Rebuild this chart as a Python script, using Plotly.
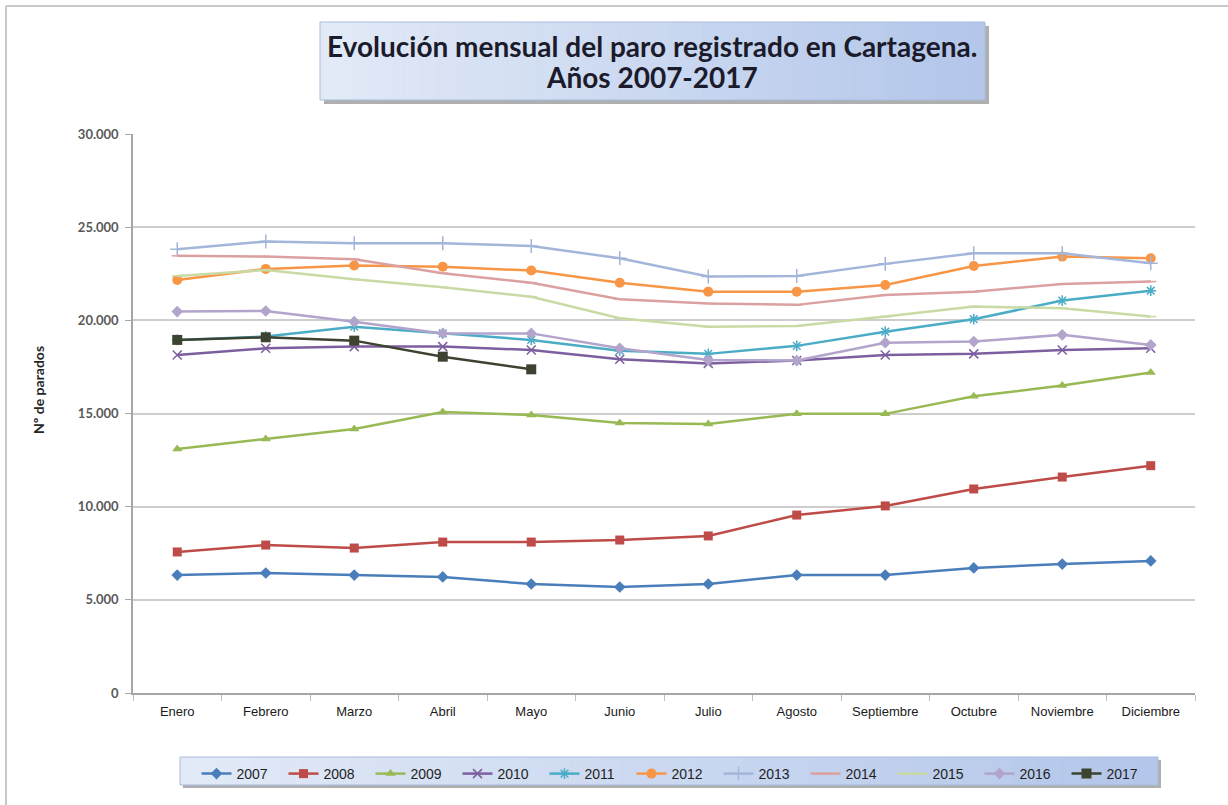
import plotly.graph_objects as go

meses = ["Enero", "Febrero", "Marzo", "Abril", "Mayo", "Junio", "Julio",
         "Agosto", "Septiembre", "Octubre", "Noviembre", "Diciembre"]

y2007 = [6330, 6440, 6330, 6230, 5850, 5690, 5850, 6330, 6330, 6710, 6920, 7090]
y2008 = [7570, 7940, 7780, 8100, 8100, 8210, 8430, 9550, 10040, 10950, 11590, 12200]
y2009 = [13100, 13630, 14170, 15080, 14920, 14490, 14440, 14980, 14980, 15920, 16500, 17200]
y2010 = [18140, 18500, 18590, 18590, 18410, 17910, 17690, 17840, 18140, 18200, 18410, 18500]
y2011 = [18950, 19130, 19660, 19300, 18950, 18370, 18200, 18630, 19390, 20060, 21060, 21590]
y2012 = [22170, 22760, 22940, 22880, 22670, 22020, 21540, 21540, 21900, 22920, 23420, 23330]
y2013 = [23820, 24230, 24140, 24140, 23990, 23330, 22350, 22380, 23030, 23600, 23600, 23060]
y2014 = [23460, 23420, 23280, 22530, 22020, 21130, 20910, 20830, 21360, 21540, 21950, 22080]
y2015 = [22380, 22700, 22200, 21780, 21270, 20110, 19660, 19700, 20200, 20740, 20650, 20200]
y2016 = [20470, 20500, 19930, 19300, 19300, 18500, 17870, 17840, 18800, 18860, 19220, 18680]
y2017 = [18950, 19090, 18910, 18050, 17370]

series = [
    ("2007", y2007, "#4A7EBB", "diamond", 9),
    ("2008", y2008, "#BE4B48", "square", 9),
    ("2009", y2009, "#98B954", "triangle-up", 9),
    ("2010", y2010, "#7D5FA0", "x-thin", 9),
    ("2011", y2011, "#4BACC6", "asterisk", 9),
    ("2012", y2012, "#F79646", "circle", 10),
    ("2013", y2013, "#A3B6DA", "cross-thin", 10),
    ("2014", y2014, "#DBA0A0", "line-ew", 8),
    ("2015", y2015, "#C9DAA4", "line-ew", 8),
    ("2016", y2016, "#B2A4CB", "diamond", 9),
    ("2017", y2017, "#3D4331", "square", 10),
]

W, H = 1228, 805
ML, MR, MT, MB = 133, 33, 134, 112
PW, PH = W - ML - MR, H - MT - MB


def px(x):
    return (x - ML) / PW


def py(y):
    return (H - MB - y) / PH


fig = go.Figure()
for name, vals, col, sym, size in series:
    thin = sym in ("x-thin", "asterisk", "cross-thin", "line-ew")
    fig.add_trace(go.Scatter(
        x=meses[:len(vals)], y=vals, name=name, mode="lines+markers",
        line=dict(color=col, width=2.5),
        marker=dict(symbol=sym, size=size, color=col,
                    line=dict(color=col, width=1.5 if thin else 0)),
    ))

shapes = []
# outer chart border (left/top visible)
shapes.append(dict(type="line", xref="paper", yref="paper", x0=px(6), x1=px(W + 5),
                   y0=py(6), y1=py(6), line=dict(color="#C8C8C8", width=2)))
shapes.append(dict(type="line", xref="paper", yref="paper", x0=px(6), x1=px(6),
                   y0=py(6), y1=py(H + 5), line=dict(color="#C8C8C8", width=2)))

n = 40
c0 = (226, 234, 247)
c1 = (180, 199, 234)


def gradient_box(x0, x1, y0, y1, off):
    shapes.append(dict(type="rect", xref="paper", yref="paper",
                       x0=px(x0 + off), x1=px(x1 + off), y0=py(y0 + off), y1=py(y1 + off),
                       fillcolor="rgba(110,110,110,0.55)", line=dict(width=0)))
    for i in range(n):
        t = i / (n - 1)
        c = tuple(int(c0[k] + (c1[k] - c0[k]) * t) for k in range(3))
        xa = x0 + (x1 - x0) * i / n
        xb = x0 + (x1 - x0) * (i + 1) / n + 0.6
        shapes.append(dict(type="rect", xref="paper", yref="paper",
                           x0=px(xa), x1=px(min(xb, x1)), y0=py(y0), y1=py(y1),
                           fillcolor="rgb(%d,%d,%d)" % c, line=dict(width=0)))
    shapes.append(dict(type="rect", xref="paper", yref="paper",
                       x0=px(x0), x1=px(x1), y0=py(y0), y1=py(y1),
                       fillcolor="rgba(0,0,0,0)", line=dict(color="#A9BCDD", width=1)))


gradient_box(320, 985, 22, 100, 4)
lx0, lx1, ly0, ly1 = 180, 1158, 757, 785
gradient_box(lx0, lx1, ly0, ly1, 3)

annotations = [
    dict(text="<b>Evolución mensual del paro registrado en Cartagena.</b>",
         xref="paper", yref="paper", x=px(652), y=py(46), showarrow=False,
         xanchor="center", yanchor="middle",
         font=dict(family="Lato, Open Sans, sans-serif", size=28, color="#1B1B2B")),
    dict(text="<b>Años 2007-2017</b>",
         xref="paper", yref="paper", x=px(652), y=py(77), showarrow=False,
         xanchor="center", yanchor="middle",
         font=dict(family="Lato, Open Sans, sans-serif", size=28, color="#1B1B2B")),
    dict(text="<b>Nº de parados</b>", textangle=-90,
         xref="paper", yref="paper", x=px(38), y=py(390), showarrow=False,
         xanchor="center", yanchor="middle",
         font=dict(family="Lato, Open Sans, sans-serif", size=14, color="#262626")),
]

fig.update_layout(
    width=W, height=H,
    margin=dict(l=ML, r=MR, t=MT, b=MB, autoexpand=False),
    paper_bgcolor="white", plot_bgcolor="white",
    separators=",.",
    showlegend=True,
    legend=dict(orientation="h", x=px((lx0 + lx1) / 2 + 6), y=py(ly0 + 1),
                xanchor="center", yanchor="top",
                bgcolor="rgba(0,0,0,0)", borderwidth=0,
                entrywidth=42, entrywidthmode="pixels", itemwidth=30,
                font=dict(family="Liberation Sans Narrow, Arial Narrow, Liberation Sans, sans-serif",
                          size=14, color="#1F1F1F")),
    xaxis=dict(type="category", range=[-0.5, 11.5], showgrid=False,
               showline=True, linecolor="#A6A6A6", linewidth=1.5,
               ticks="outside", tickson="boundaries", ticklen=6, tickcolor="#BFBFBF",
               ticklabelstandoff=6,
               tickfont=dict(family="Liberation Sans Narrow, Arial Narrow, Liberation Sans, sans-serif",
                             size=13, color="#1A1A1A")),
    yaxis=dict(range=[0, 30000], dtick=5000, tickformat=",d",
               showgrid=True, gridcolor="#CDCDCD", gridwidth=1.5,
               showline=True, linecolor="#A6A6A6", linewidth=1.5,
               ticks="outside", ticklen=6, tickcolor="#A6A6A6",
               zeroline=False, ticklabelstandoff=4,
               tickfont=dict(family="Lato, Open Sans, sans-serif", size=13,
                             color="#595959", weight="bold")),
    shapes=shapes,
    annotations=annotations,
)

fig.write_html("out.html", config={"displayModeBar": False},
               post_script="document.body.style.margin='0';")
